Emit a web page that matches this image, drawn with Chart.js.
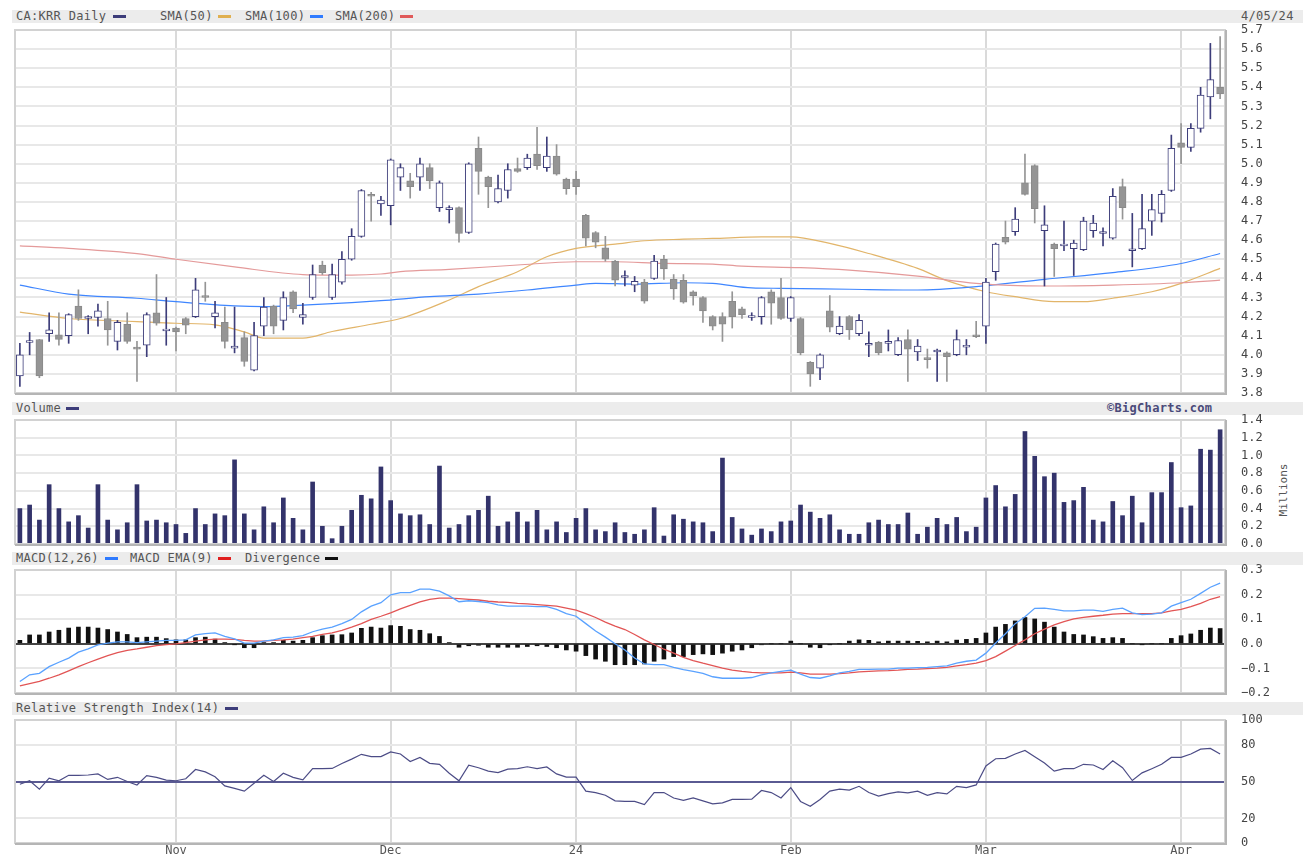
<!DOCTYPE html>
<html>
<head>
<meta charset="utf-8">
<script src="https://cdn.jsdelivr.net/npm/chart.js@4.4.1/dist/chart.umd.min.js"></script>
<style>
  body { margin: 0; width: 1308px; height: 854px; background: #fff; position: relative; overflow: hidden;
         font-family: "DejaVu Sans Mono", monospace; }
  .band { position: absolute; left: 12px; width: 1291px; height: 13px; background: #ececec; }
  .band span { position: absolute; top: 0; font-size: 12px; line-height: 13px; color: #555; letter-spacing: 0.3px; white-space: nowrap; }
  .band i { position: absolute; top: 5px; width: 13px; height: 3px; }
  canvas { position: absolute; left: 0; }
  #millions { position: absolute; left: 1283px; top: 490px; font-size: 11px; color: #555; white-space: nowrap;
              transform: translate(-50%, -50%) rotate(-90deg); }
</style>
</head>
<body>
<div class="band" style="top:10px">
  <span style="left:4px">CA:KRR Daily</span><i style="left:101px;background:#3d3d7a"></i>
  <span style="left:148px">SMA(50)</span><i style="left:206px;background:#e0b050"></i>
  <span style="left:233px">SMA(100)</span><i style="left:298px;background:#2f7bff"></i>
  <span style="left:323px">SMA(200)</span><i style="left:388px;background:#e05a5a"></i>
  <span style="left:1229px">4/05/24</span>
</div>
<div class="band" style="top:402px">
  <span style="left:4px">Volume</span><i style="left:54px;background:#3d3d7a"></i>
  <span style="left:1095px;font-weight:bold;color:#4a4a7a">©BigCharts.com</span>
</div>
<div class="band" style="top:552px">
  <span style="left:4px">MACD(12,26)</span><i style="left:93px;background:#2f7bff"></i>
  <span style="left:118px">MACD EMA(9)</span><i style="left:206px;background:#e02020"></i>
  <span style="left:233px">Divergence</span><i style="left:313px;background:#111"></i>
</div>
<div class="band" style="top:702px">
  <span style="left:4px">Relative Strength Index(14)</span><i style="left:213px;background:#3d3d7a"></i>
</div>
<div id="millions">Millions</div>

<canvas id="price" width="1308" height="383" style="top:20px"></canvas>
<canvas id="volume" width="1308" height="144" style="top:410px"></canvas>
<canvas id="macd" width="1308" height="143" style="top:560px"></canvas>
<canvas id="rsi" width="1308" height="144" style="top:710px"></canvas>

<script>
// trading days 10 Oct 2023 .. 5 Apr 2024 (124 sessions)
const monthIdx = [16, 38, 57, 79, 99, 119];
const monthNames = ['Nov', 'Dec', '24', 'Feb', 'Mar', 'Apr'];

const opens = [3.89,4.065,4.08,4.11,4.105,4.10,4.255,4.19,4.195,4.19, 4.07,4.16,4.04,4.05,4.22,4.125,4.14,4.19,4.20,4.31,
  4.20,4.17,4.035,4.09,3.92,4.15,4.255,4.18,4.33,4.195, 4.30,4.47,4.30,4.38,4.50,4.62,4.84,4.79,4.78,4.93,
  4.91,4.93,4.98,4.77,4.76,4.77,4.64,5.08,4.93,4.80, 4.86,4.975,4.98,5.05,4.98,5.04,4.92,4.92,4.73,4.64,
  4.56,4.49,4.405,4.365,4.38,4.40,4.50,4.395,4.39,4.33, 4.30,4.20,4.20,4.28,4.24,4.195,4.20,4.33,4.30,4.19,
  4.19,3.96,3.93,4.23,4.11,4.20,4.11,4.05,4.065,4.06, 4.00,4.08,4.015,3.985,4.015,4.01,4.00,4.04,4.105,4.15,
  4.435,4.615,4.645,4.90,4.99,4.65,4.58,4.57,4.555,4.55, 4.65,4.635,4.61,4.88,4.545,4.555,4.70,4.74,4.86,5.11,
  5.085,5.185,5.35,5.40];
const highs = [4.06,4.117,4.08,4.22,4.22,4.215,4.34,4.205,4.265,4.28, 4.18,4.22,4.07,4.22,4.42,4.30,4.145,4.195,4.40,4.38,
  4.28,4.25,4.25,4.12,4.17,4.30,4.26,4.33,4.335,4.27, 4.47,4.49,4.475,4.54,4.66,4.865,4.85,4.83,5.025,5.00,
  4.95,5.03,5.00,4.91,4.78,4.775,5.005,5.14,4.935,4.94, 5.00,5.03,5.05,5.19,5.14,5.10,4.925,4.96,4.735,4.645,
  4.62,4.495,4.44,4.41,4.395,4.52,4.52,4.42,4.42,4.335, 4.305,4.205,4.22,4.33,4.25,4.22,4.305,4.34,4.40,4.305,
  4.195,3.965,4.005,4.31,4.20,4.205,4.21,4.12,4.07,4.13, 4.09,4.13,4.08,4.03,4.03,4.015,4.13,4.08,4.175,4.40,
  4.585,4.70,4.77,5.05,4.995,4.78,4.585,4.70,4.60,4.72, 4.73,4.665,4.87,4.92,4.74,4.84,4.84,4.86,5.15,5.21,
  5.21,5.40,5.63,5.665];
const lows = [3.835,4.00,3.88,4.07,4.05,4.06,4.18,4.11,4.15,4.05, 4.025,4.06,3.86,3.99,4.155,4.05,4.02,4.11,4.195,4.28,
  4.14,4.035,4.01,3.94,3.915,4.10,4.11,4.13,4.22,4.16, 4.29,4.42,4.29,4.37,4.495,4.615,4.70,4.73,4.68,4.86,
  4.82,4.86,4.87,4.75,4.69,4.59,4.635,4.84,4.77,4.795, 4.82,4.955,4.97,4.97,4.96,4.94,4.84,4.84,4.57,4.56,
  4.49,4.36,4.36,4.33,4.27,4.395,4.395,4.29,4.27,4.26, 4.17,4.13,4.07,4.14,4.19,4.18,4.16,4.16,4.185,4.175,
  4.00,3.835,3.87,4.12,4.105,4.08,4.10,3.99,4.00,4.02, 3.995,3.86,3.97,3.93,3.86,3.86,3.995,4.00,4.09,4.06,
  4.39,4.58,4.625,4.835,4.69,4.36,4.41,4.545,4.415,4.545, 4.615,4.57,4.605,4.71,4.46,4.55,4.625,4.695,4.855,5.00,
  5.065,5.165,5.235,5.34];
const closes = [4.00,4.075,3.89,4.13,4.08,4.21,4.19,4.20,4.23,4.13, 4.17,4.07,4.03,4.21,4.165,4.135,4.12,4.155,4.34,4.30,
  4.22,4.07,4.045,3.965,4.10,4.25,4.15,4.30,4.24,4.21, 4.42,4.43,4.42,4.50,4.62,4.86,4.83,4.81,5.02,4.98,
  4.88,5.00,4.91,4.90,4.77,4.635,5.00,4.96,4.88,4.87, 4.97,4.96,5.03,4.99,5.04,4.945,4.87,4.88,4.61,4.59,
  4.50,4.39,4.415,4.385,4.28,4.49,4.45,4.345,4.275,4.31, 4.23,4.15,4.16,4.20,4.21,4.205,4.30,4.27,4.19,4.30,
  4.01,3.90,4.00,4.145,4.15,4.13,4.18,4.06,4.01,4.07, 4.075,4.03,4.045,3.975,4.025,3.99,4.08,4.05,4.095,4.38,
  4.58,4.59,4.71,4.84,4.765,4.68,4.555,4.58,4.585,4.70, 4.69,4.645,4.83,4.77,4.555,4.66,4.76,4.84,5.08,5.085,
  5.185,5.36,5.44,5.365];

// moving averages: [session index, value] read at key points
const sma50 = [[0,4.223],[5,4.19],[12,4.174],[16,4.165],[20,4.157],[23,4.12],[25,4.087],[29,4.087],[32,4.122],
  [36,4.16],[39,4.19],[44,4.287],[47,4.357],[51,4.435],[54,4.513],[57,4.557],[61,4.579],[64,4.597],[68,4.605],
  [71,4.609],[76,4.617],[79,4.617],[83,4.583],[87,4.53],[92,4.452],[95,4.388],[99,4.33],[102,4.304],[106,4.278],
  [109,4.278],[112,4.296],[116,4.33],[119,4.374],[123,4.452]];
const sma100 = [[0,4.365],[5,4.318],[12,4.296],[16,4.278],[22,4.256],[25,4.252],[29,4.26],[34,4.273],[37,4.283],
  [42,4.304],[47,4.318],[52,4.339],[57,4.365],[59,4.374],[63,4.37],[68,4.377],[71,4.374],[75,4.35],[78,4.348],
  [85,4.343],[92,4.339],[98,4.357],[105,4.395],[112,4.43],[119,4.478],[123,4.53]];
const sma200 = [[0,4.57],[5,4.557],[12,4.53],[16,4.50],[22,4.46],[29,4.42],[34,4.417],[37,4.423],[39,4.435],
  [44,4.447],[51,4.47],[57,4.487],[61,4.487],[66,4.478],[71,4.475],[74,4.464],[80,4.456],[85,4.443],[92,4.412],
  [98,4.374],[105,4.36],[112,4.365],[119,4.377],[123,4.391]];

// volume, millions
const volume = [0.40,0.44,0.27,0.67,0.40,0.25,0.32,0.18,0.67,0.27, 0.16,0.24,0.67,0.26,0.27,0.24,0.22,0.12,0.40,0.22,
  0.34,0.32,0.95,0.34,0.16,0.42,0.24,0.52,0.29,0.16, 0.70,0.20,0.06,0.20,0.38,0.55,0.51,0.87,0.49,0.34,
  0.32,0.33,0.22,0.88,0.18,0.22,0.32,0.38,0.54,0.20, 0.25,0.36,0.25,0.38,0.16,0.25,0.13,0.29,0.40,0.16,
  0.14,0.24,0.13,0.11,0.16,0.41,0.09,0.33,0.28,0.25, 0.24,0.14,0.97,0.30,0.17,0.10,0.17,0.14,0.25,0.26,
  0.44,0.36,0.29,0.33,0.16,0.11,0.11,0.24,0.27,0.22, 0.22,0.35,0.11,0.19,0.29,0.22,0.30,0.14,0.19,0.52,
  0.66,0.42,0.56,1.27,0.99,0.76,0.80,0.47,0.49,0.64, 0.27,0.25,0.48,0.32,0.54,0.24,0.58,0.58,0.92,0.41,
  0.43,1.07,1.06,1.29];

const macd = [-0.153,-0.126,-0.12,-0.093,-0.075,-0.058,-0.034,-0.021,-0.004,0.003, 0.008,0.008,0.005,0.008,0.011,0.014,0.014,0.016,0.036,0.041,
  0.044,0.03,0.02,0.003,0.003,0.011,0.016,0.025,0.027,0.033, 0.049,0.06,0.068,0.082,0.099,0.13,0.153,0.167,0.199,0.208,
  0.208,0.222,0.222,0.214,0.195,0.171,0.175,0.172,0.167,0.158, 0.153,0.153,0.153,0.151,0.151,0.14,0.123,0.112,0.082,0.052,
  0.027,0.0,-0.025,-0.058,-0.082,-0.085,-0.085,-0.096,-0.105,-0.112, -0.12,-0.134,-0.14,-0.14,-0.14,-0.137,-0.126,-0.118,-0.112,-0.107,
  -0.123,-0.137,-0.14,-0.13,-0.118,-0.112,-0.104,-0.104,-0.103,-0.103, -0.099,-0.099,-0.097,-0.096,-0.093,-0.09,-0.079,-0.071,-0.066,-0.038,
  0.003,0.041,0.082,0.11,0.144,0.145,0.14,0.134,0.134,0.137, 0.137,0.132,0.14,0.145,0.126,0.119,0.121,0.126,0.153,0.167,
  0.181,0.205,0.23,0.247];
const macdEma = [-0.171,-0.162,-0.153,-0.14,-0.126,-0.11,-0.093,-0.077,-0.062,-0.048, -0.036,-0.027,-0.021,-0.014,-0.007,-0.003,0.0,0.005,0.011,0.016,
  0.019,0.019,0.018,0.014,0.011,0.011,0.014,0.016,0.019,0.025, 0.03,0.038,0.044,0.055,0.068,0.082,0.099,0.112,0.126,0.142,
  0.156,0.17,0.181,0.186,0.186,0.184,0.181,0.178,0.173,0.17, 0.168,0.164,0.162,0.159,0.156,0.153,0.145,0.137,0.123,0.107,
  0.088,0.072,0.058,0.038,0.016,-0.003,-0.022,-0.038,-0.055,-0.068, -0.079,-0.089,-0.099,-0.107,-0.112,-0.116,-0.118,-0.118,-0.118,-0.115,
  -0.118,-0.123,-0.123,-0.123,-0.121,-0.118,-0.114,-0.112,-0.11,-0.109, -0.107,-0.104,-0.103,-0.101,-0.099,-0.096,-0.09,-0.085,-0.079,-0.068,
  -0.052,-0.03,-0.007,0.016,0.041,0.06,0.077,0.09,0.101,0.107, 0.112,0.116,0.121,0.123,0.123,0.123,0.123,0.126,0.134,0.14,
  0.151,0.164,0.181,0.192];
const divergence = [0.014,0.036,0.036,0.048,0.055,0.064,0.068,0.068,0.064,0.058, 0.048,0.038,0.025,0.027,0.027,0.021,0.016,0.016,0.025,0.027,
  0.019,0.005,-0.003,-0.016,-0.016,0.005,0.005,0.014,0.011,0.014, 0.025,0.033,0.036,0.037,0.044,0.063,0.068,0.064,0.074,0.071,
  0.058,0.055,0.041,0.030,0.005,-0.014,-0.008,-0.006,-0.014,-0.014, -0.014,-0.014,-0.011,-0.008,-0.011,-0.016,-0.025,-0.030,-0.048,-0.062,
  -0.071,-0.085,-0.085,-0.085,-0.082,-0.071,-0.062,-0.052,-0.052,-0.044, -0.041,-0.044,-0.038,-0.030,-0.025,-0.016,-0.004,0.0,0.0,0.011,
  0.0,-0.014,-0.016,-0.003,0.0,0.011,0.016,0.014,0.008,0.011, 0.011,0.011,0.01,0.008,0.011,0.008,0.015,0.018,0.022,0.044,
  0.068,0.079,0.093,0.107,0.101,0.088,0.068,0.048,0.038,0.036, 0.029,0.022,0.025,0.022,0.0,-0.003,0.0,0.0,0.022,0.033,
  0.040,0.055,0.064,0.062];

const rsi = [47.8,50.6,43.8,52.8,50.6,55,55,55.3,56.2,51.7, 53.4,50,47.2,54.8,53.4,51.1,50.6,52.2,59.8,57.8,
  53.9,46.4,44.4,42.2,48.6,55,50,56.7,53.4,51.4, 60.4,60.4,60.6,64.6,68.2,72.1,70.2,70.2,74.1,72.4,
  66.2,69.6,64.8,64,56.7,50.6,63.2,61.2,58.4,57.3, 60.1,60.4,62,60.4,61.8,56.2,53.6,53.6,42.2,41,
  38.8,34.3,33.8,33.8,31.2,41,41,36.6,34.6,36.6, 34.3,31.8,32.6,35.4,35.4,35.7,42.7,41,36.6,45,
  33.8,29.8,35.4,42.2,43.8,43,46.1,41,38.2,40.2, 41.6,40.8,42.2,38.8,41,39.9,46.1,45,47.2,62.6,
  68.5,68.8,72.4,75.2,70.2,65.1,58.4,60.4,60.4,64, 63.4,59.8,66.8,61.2,50.8,57,60.4,64,69.6,69.6,
  72.4,76.3,76.9,72.4];
const rsiTicks = [0, 20, 50, 80, 100];

const N = closes.length;
const labels = closes.map((_, i) => i);
const NAVY = '#3d3d7a', GREY = '#959595';
const FONT = { family: 'DejaVu Sans Mono', size: 12 };
const up = closes.map((c, i) => c >= opens[i]);

function sparse(points) {
  const a = new Array(N).fill(null);
  points.forEach(([i, v]) => { a[i] = v; });
  return a;
}

function fmt1(v) {
  const r = Math.round(v * 10) / 10;
  return (r < 0 ? '\u2212' : '') + Math.abs(r).toFixed(1);
}

const framePlugin = {
  id: 'frame',
  afterDraw(chart) {
    const { ctx, chartArea: a } = chart;
    ctx.save();
    ctx.strokeStyle = '#d2d2d2';
    ctx.lineWidth = 2;
    ctx.strokeRect(a.left, a.top, a.right - a.left, a.bottom - a.top);
    ctx.strokeStyle = '#b5b5b5';
    ctx.beginPath();
    ctx.moveTo(a.left, a.bottom + 1); ctx.lineTo(a.right + 1, a.bottom + 1); ctx.lineTo(a.right + 1, a.top);
    ctx.stroke();
    ctx.restore();
  }
};

function xAxis(showLabels) {
  return {
    offset: true,
    grid: {
      offset: false, drawTicks: false, lineWidth: 2,
      color: c => monthIdx.includes(c.index) ? '#dadada' : 'rgba(0,0,0,0)'
    },
    border: { display: false },
    ticks: {
      display: showLabels, autoSkip: false, maxRotation: 0, minRotation: 0, padding: 1,
      font: FONT, color: '#555',
      callback: (v, i) => { const k = monthIdx.indexOf(i); return k < 0 ? '' : monthNames[k]; }
    },
    afterFit: s => { s.height = showLabels ? 11 : 0; }
  };
}

// tick marks are invisible; their length only pushes labels 16px right of the plot
function yAxis(min, max, step, fmt, gridColor) {
  return {
    position: 'right', min, max,
    ticks: { stepSize: step, padding: 0, font: FONT, color: '#444', callback: fmt },
    grid: { drawTicks: true, tickLength: 16, tickColor: 'rgba(0,0,0,0)', color: gridColor || '#e8e8e8', lineWidth: 2 },
    border: { display: false },
    afterFit: s => { s.width = 83; }
  };
}

function baseOptions(x, y, padBottom) {
  return {
    responsive: false,
    animation: false,
    layout: { padding: { left: 15, right: 0, top: 10, bottom: padBottom } },
    plugins: { legend: { display: false }, tooltip: { enabled: false } },
    scales: { x, y }
  };
}

function smaLine(points, color) {
  return {
    type: 'line', data: sparse(points), borderColor: color, borderWidth: 1.2,
    pointRadius: 0, spanGaps: true, cubicInterpolationMode: 'monotone', order: 3
  };
}

// price panel
new Chart(document.getElementById('price'), {
  type: 'bar',
  data: {
    labels,
    datasets: [
      smaLine(sma200, '#e49a9a'),
      smaLine(sma100, '#3f86ff'),
      smaLine(sma50, '#e2b56a'),
      {
        label: 'wick', data: lows.map((l, i) => [l, highs[i]]),
        backgroundColor: up.map(u => u ? NAVY : GREY),
        barThickness: 1, grouped: false, order: 2
      },
      {
        label: 'body', data: opens.map((o, i) => [Math.min(o, closes[i]), Math.max(o, closes[i])]),
        backgroundColor: up.map(u => u ? '#ffffff' : GREY),
        borderColor: up.map(u => u ? NAVY : '#8a8a8a'),
        borderWidth: 1, borderSkipped: false,
        barThickness: 7, grouped: false, order: 1
      }
    ]
  },
  options: baseOptions(xAxis(false), yAxis(3.8, 5.7, 0.1, fmt1), 10),
  plugins: [framePlugin]
});

// volume panel
new Chart(document.getElementById('volume'), {
  type: 'bar',
  data: {
    labels,
    datasets: [{ data: volume, backgroundColor: '#33336b', barThickness: 4 }]
  },
  options: baseOptions(xAxis(false), yAxis(0, 1.4, 0.2, fmt1), 10),
  plugins: [framePlugin]
});

// MACD panel
new Chart(document.getElementById('macd'), {
  type: 'bar',
  data: {
    labels,
    datasets: [
      { type: 'line', data: macd, borderColor: '#5aa2ff', borderWidth: 1.3, pointRadius: 0, order: 1 },
      { type: 'line', data: macdEma, borderColor: '#e25555', borderWidth: 1.3, pointRadius: 0, order: 1 },
      { data: divergence, backgroundColor: '#111', barThickness: 4, grouped: false, order: 2 }
    ]
  },
  options: baseOptions(xAxis(false),
    yAxis(-0.2, 0.3, 0.1, fmt1, c => Math.abs(c.tick.value) < 1e-6 ? '#444' : '#e8e8e8'), 10),
  plugins: [framePlugin]
});

// RSI panel
const rsiY = yAxis(0, 100, 10, v => String(v), c => c.tick.value === 50 ? '#5a5a92' : '#e8e8e8');
rsiY.afterBuildTicks = s => { s.ticks = rsiTicks.map(v => ({ value: v })); };

new Chart(document.getElementById('rsi'), {
  type: 'line',
  data: {
    labels,
    datasets: [{ data: rsi, borderColor: '#4c4c86', borderWidth: 1.2, pointRadius: 0 }]
  },
  options: baseOptions(xAxis(true), rsiY, 0),
  plugins: [framePlugin]
});
</script>
</body>
</html>
